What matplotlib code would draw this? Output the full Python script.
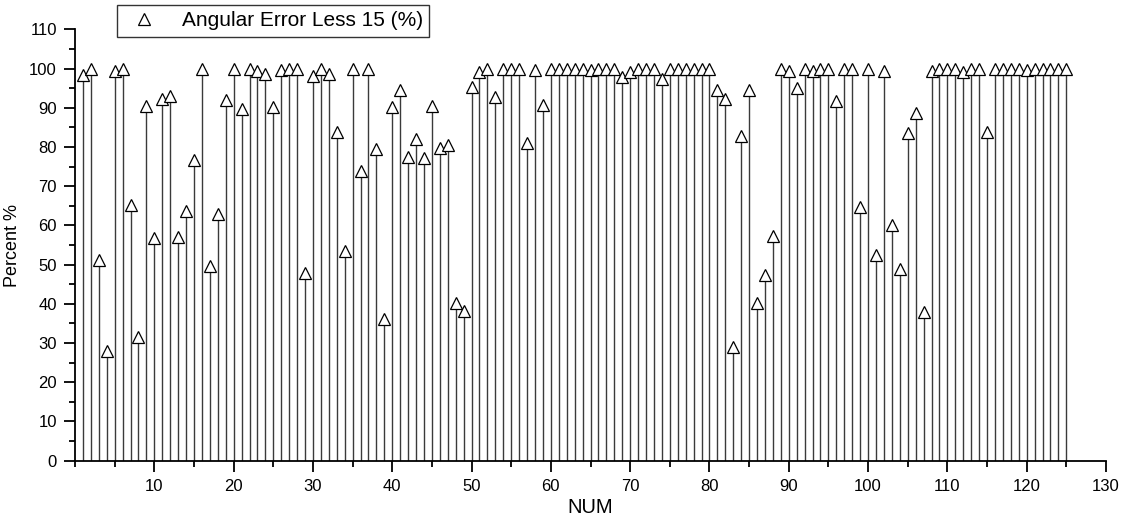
import numpy as np
import matplotlib
matplotlib.use("Agg")
import matplotlib.pyplot as plt
from matplotlib.ticker import MultipleLocator
from matplotlib.lines import Line2D

plt.rcParams['font.family'] = ['Liberation Sans', 'DejaVu Sans']

num = list(range(1, 126))
percent = [
    98.3, 100, 51.1, 28.1, 99.5, 100, 65.1, 31.5, 90.4, 56.7,
    92.3, 92.9, 57.1, 63.6, 76.6, 100, 49.7, 63.0, 91.9, 100,
    89.7, 100, 99.5, 98.6, 90.3, 99.6, 100, 100, 47.8, 98.2,
    100, 98.7, 83.8, 53.5, 100, 73.9, 100, 79.6, 36.2, 90.1,
    94.5, 77.5, 82.1, 77.2, 90.4, 79.7, 80.4, 40.3, 38.3, 95.4,
    99.1, 100, 92.8, 100, 100, 100, 80.9, 99.7, 90.6, 100,
    100, 100, 100, 100, 99.7, 100, 100, 100, 97.9, 99.2,
    100, 100, 100, 97.4, 100, 100, 100, 100, 100, 100,
    94.5, 92.3, 28.9, 82.7, 94.5, 40.2, 47.3, 57.2, 100, 99.4,
    95.0, 99.9, 99.3, 100, 100, 91.6, 100, 100, 64.8, 100,
    52.5, 99.5, 60.0, 48.8, 83.5, 88.7, 37.8, 99.5, 100, 100,
    100, 99.2, 100, 100, 83.8, 100, 100, 100, 100, 99.6,
    100, 100, 100, 100, 100,
]
series_label = "Angular Error Less 15 (%)"
x_ticks = [10, 20, 30, 40, 50, 60, 70, 80, 90, 100, 110, 120, 130]
y_ticks = [0, 10, 20, 30, 40, 50, 60, 70, 80, 90, 100, 110]

fig = plt.figure(figsize=(11.25, 5.19), dpi=100)
ax = fig.add_axes([0.0667, 0.1123, 0.9164, 0.8312])

ax.vlines(num, 0, percent, colors='#3a3a3a', linewidth=1.0, zorder=1)
ax.plot(num, percent, linestyle='none', marker='^', markersize=9,
        markerfacecolor='white', markeredgecolor='black', markeredgewidth=0.9,
        zorder=3)

ax.set_xlim(0, 130)
ax.set_ylim(0, 110)
ax.set_xticks(x_ticks)
ax.set_yticks(y_ticks)
ax.xaxis.set_minor_locator(MultipleLocator(5))
ax.yaxis.set_minor_locator(MultipleLocator(5))
ax.tick_params(which='major', direction='out', length=8, width=1.3, labelsize=12, pad=5)
ax.tick_params(which='minor', direction='out', length=4, width=1.3)
for s in ['top', 'right']:
    ax.spines[s].set_visible(False)
for s in ['left', 'bottom']:
    ax.spines[s].set_linewidth(1.3)

ax.set_xlabel("NUM", fontsize=14.5, labelpad=3)
ax.set_ylabel("Percent %", fontsize=13, labelpad=6)

handle = Line2D([], [], linestyle='none', marker='^', markersize=8,
                markerfacecolor='white', markeredgecolor='black', markeredgewidth=0.9)
leg = fig.legend([handle], [series_label], loc='upper left',
                 bbox_to_anchor=(117 / 1125, 1 - 5 / 519), fontsize=15,
                 frameon=True, fancybox=False, edgecolor='black',
                 borderpad=0.3, handletextpad=0.8, borderaxespad=0)
leg.get_frame().set_linewidth(1.0)

fig.savefig("out.png", dpi=100)
